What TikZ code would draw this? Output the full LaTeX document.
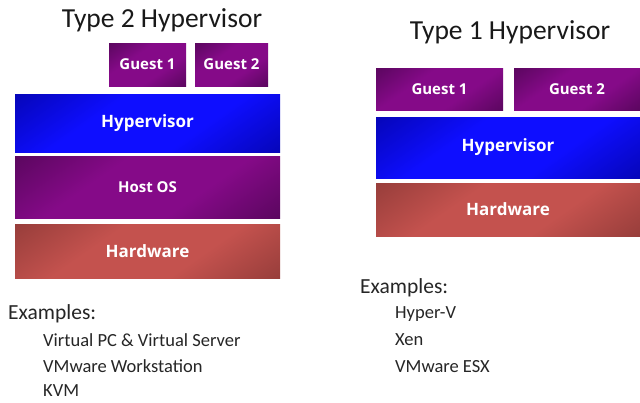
\documentclass[tikz,border=0pt]{standalone}
\usepackage{fontspec}
\setmainfont{Carlito}
\newfontfamily\boxfont{Open Sans}
\definecolor{pmid}{HTML}{850A88}
\definecolor{pdark}{HTML}{3F0444}
\definecolor{bmid}{HTML}{0E0EFF}
\definecolor{bdark}{HTML}{00008A}
\definecolor{rmid}{HTML}{C4524E}
\definecolor{rdark}{HTML}{7A302E}
\pgfdeclareverticalshading{pshade}{100bp}{color(0bp)=(pdark); color(38bp)=(pmid); color(62bp)=(pmid); color(100bp)=(pdark)}
\pgfdeclareverticalshading{bshade}{100bp}{color(0bp)=(bdark); color(38bp)=(bmid); color(62bp)=(bmid); color(100bp)=(bdark)}
\pgfdeclareverticalshading{rshade}{100bp}{color(0bp)=(rdark); color(38bp)=(rmid); color(62bp)=(rmid); color(100bp)=(rdark)}
\begin{document}
\begin{tikzpicture}[x=1pt,y=-1pt,
  layer/.style={inner sep=0pt, font=\boxfont\bfseries\fontsize{15}{18}\selectfont, text=white},
  biglayer/.style={layer, font=\boxfont\bfseries\fontsize{17}{20}\selectfont},
  purplebox/.style={shading=pshade, shading angle=35},
  bluebox/.style={shading=bshade, shading angle=35},
  redbox/.style={shading=rshade, shading angle=35},
  title/.style={inner sep=0pt, font=\fontsize{27.5}{32}\selectfont, text=black!90},
  ex/.style={inner sep=0pt, anchor=west, font=\fontsize{21.5}{25}\selectfont, text=black!85},
  item/.style={inner sep=0pt, anchor=west, font=\fontsize{18.5}{22}\selectfont, text=black!85}]
\useasboundingbox (0,0) rectangle (640,402);
\fill[white] (0,0) rectangle (640,402);
% Left: Type 2
\node[title] (t2) at (162,20) {Type 2 Hypervisor};
\shade[purplebox] (109,43) rectangle (186,86);
\node[layer] (g1l) at (147.5,64.5) {Guest 1};
\shade[purplebox] (195,43) rectangle (268,86);
\node[layer] (g2l) at (231.5,64.5) {Guest 2};
\shade[bluebox] (15,94) rectangle (280,152);
\node[biglayer] (hvl) at (147.5,123) {Hypervisor};
\shade[purplebox] (15,156) rectangle (280,218);
\node[layer] (osl) at (147.5,187) {Host OS};
\shade[redbox] (15,224) rectangle (280,278);
\node[biglayer] (hwl) at (147.5,251) {Hardware};
\node[ex] (exl) at (8,314) {Examples:};
\node[item] (i1) at (43,340) {Virtual PC \& Virtual Server};
\node[item] (i2) at (43,366) {VMware Workstation};
\node[item] (i3) at (43,391) {KVM};
% Right: Type 1
\node[title] (t1) at (510,32) {Type 1 Hypervisor};
\shade[purplebox] (376,68) rectangle (503,110);
\node[layer] (g1r) at (439.5,89) {Guest 1};
\shade[purplebox] (514,68) rectangle (640,110);
\node[layer] (g2r) at (577,89) {Guest 2};
\shade[bluebox] (376,117) rectangle (640,178);
\node[biglayer] (hvr) at (508,147.5) {Hypervisor};
\shade[redbox] (376,183) rectangle (640,236);
\node[biglayer] (hwr) at (508,209.5) {Hardware};
\node[ex] (exr) at (360,288) {Examples:};
\node[item] (j1) at (395,314) {Hyper-V};
\node[item] (j2) at (395,340) {Xen};
\node[item] (j3) at (395,367) {VMware ESX};
\end{tikzpicture}
\end{document}
